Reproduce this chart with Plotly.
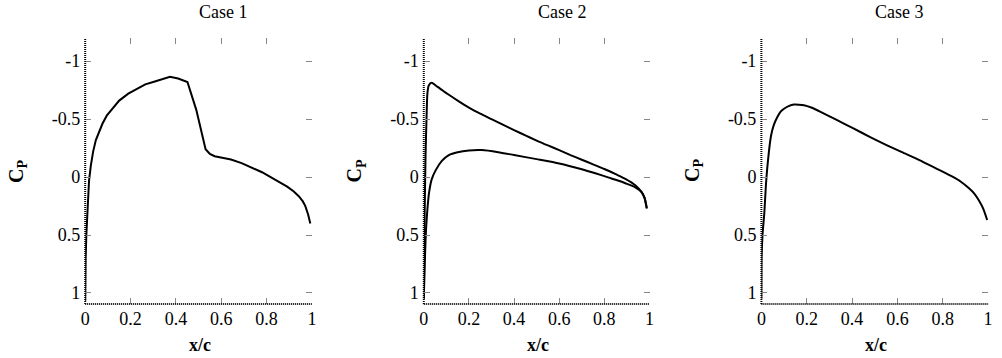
import plotly.graph_objects as go

# ---------------- data ----------------
case1_x = [0.0, 0.0005, 0.002, 0.005, 0.01, 0.017, 0.025, 0.035, 0.047, 0.06, 0.076, 0.095,
           0.12, 0.15, 0.19, 0.23, 0.265, 0.3, 0.323, 0.35, 0.374, 0.41, 0.451, 0.49, 0.531,
           0.55, 0.571, 0.61, 0.643, 0.69, 0.731, 0.78, 0.818, 0.86, 0.891, 0.92, 0.942,
           0.96, 0.971, 0.983, 0.993]
case1_cp = [1.07, 0.9, 0.7, 0.5, 0.25, 0.03, -0.1, -0.22, -0.32, -0.39, -0.46, -0.53,
            -0.59, -0.66, -0.72, -0.765, -0.80, -0.82, -0.835, -0.85, -0.865, -0.85, -0.82, -0.58, -0.24,
            -0.2, -0.18, -0.165, -0.152, -0.12, -0.085, -0.042, 0.0, 0.045, 0.083, 0.125, 0.165,
            0.21, 0.25, 0.32, 0.40]

case2_upper_x = [0.0, 0.002, 0.004, 0.008, 0.012, 0.016, 0.022, 0.035, 0.06, 0.085, 0.111, 0.15,
                 0.2, 0.25, 0.3, 0.35, 0.4, 0.45, 0.5, 0.55, 0.6, 0.65, 0.7, 0.75,
                 0.8, 0.85, 0.893, 0.937, 0.965, 0.978, 0.988]
case2_upper_cp = [1.05, 0.7, 0.3, -0.2, -0.5, -0.72, -0.79, -0.813, -0.78, -0.745, -0.71, -0.66,
                  -0.6, -0.548, -0.5, -0.452, -0.405, -0.36, -0.315, -0.273, -0.233, -0.19, -0.15, -0.11,
                  -0.07, -0.025, 0.015, 0.07, 0.13, 0.18, 0.27]

case2_lower_x = [0.0, 0.003, 0.006, 0.01, 0.016, 0.023, 0.035, 0.053, 0.08, 0.111, 0.15, 0.2,
                 0.257, 0.33, 0.4, 0.5, 0.6, 0.7, 0.76, 0.82, 0.86, 0.893, 0.937, 0.965,
                 0.978, 0.988]
case2_lower_cp = [1.05, 0.85, 0.65, 0.45, 0.28, 0.14, 0.02, -0.06, -0.14, -0.19, -0.215, -0.23,
                  -0.233, -0.215, -0.19, -0.155, -0.118, -0.068, -0.033, 0.005, 0.03, 0.053, 0.088, 0.13,
                  0.18, 0.27]

case3_x = [0.0, 0.001, 0.005, 0.013, 0.02, 0.028, 0.042, 0.055, 0.071, 0.085, 0.10, 0.12,
           0.144, 0.165, 0.188, 0.22, 0.261, 0.33, 0.406, 0.48, 0.552, 0.62, 0.697, 0.77,
           0.843, 0.88, 0.916, 0.94, 0.959, 0.978, 0.996]
case3_cp = [1.05, 0.7, 0.5, 0.31, 0.07, -0.12, -0.35, -0.45, -0.52, -0.565, -0.59, -0.612,
            -0.626, -0.625, -0.62, -0.6, -0.563, -0.495, -0.42, -0.345, -0.276, -0.215, -0.147, -0.075,
            -0.003, 0.04, 0.097, 0.145, 0.20, 0.27, 0.37]

titles = ["Case 1", "Case 2", "Case 3"]
x_ticks = [0, 0.2, 0.4, 0.6, 0.8, 1]
x_ticktext = ["0", "0.2", "0.4", "0.6", "0.8", "1"]
y_ticks = [-1, -0.5, 0, 0.5, 1]
y_ticktext = ["-1", "-0.5", "0", "0.5", "1"]

# ---------------- layout geometry ----------------
W, H = 1002, 358
x_domains_px = [(81, 310), (423, 651), (764, 993)]
y_top_px, y_bot_px = 38, 304
y_dom = [1 - y_bot_px / H, 1 - y_top_px / H]

FONT = "Liberation Serif, Times New Roman, serif"

fig = go.Figure()

series = [
    [(case1_x, case1_cp, "linear")],
    [(case2_upper_x, case2_upper_cp, "spline"), (case2_lower_x, case2_lower_cp, "spline")],
    [(case3_x, case3_cp, "spline")],
]

for i, curves in enumerate(series):
    n = "" if i == 0 else str(i + 1)
    for xs, ys, shp in curves:
        line = dict(color="black", width=2, shape=shp)
        if shp == "spline":
            line["smoothing"] = 0.6
        fig.add_trace(go.Scatter(x=xs, y=ys, mode="lines", xaxis="x" + n, yaxis="y" + n,
                                 line=line, showlegend=False, hoverinfo="skip"))

axis_common = dict(showgrid=False, zeroline=False, showline=False, ticks="inside",
                   ticklen=6, tickwidth=1, tickcolor="#888888", mirror="ticks",
                   tickfont=dict(family=FONT, size=18, color="black"))

layout = dict(width=W, height=H, margin=dict(l=0, r=0, t=0, b=0),
              plot_bgcolor="white", paper_bgcolor="white", showlegend=False)

annotations = []
shapes = []
title_offsets = [25, 26, 25]
for i in range(3):
    n = "" if i == 0 else str(i + 1)
    x0, x1 = x_domains_px[i]
    layout["xaxis" + n] = dict(axis_common, domain=[x0 / W, x1 / W], range=[0, 1.0],
                               tickvals=x_ticks, ticktext=x_ticktext, anchor="y" + n,
                               ticklabelstandoff=2)
    layout["yaxis" + n] = dict(axis_common, domain=y_dom, range=[1.095, -1.2],
                               tickvals=y_ticks, ticktext=y_ticktext, anchor="x" + n,
                               ticklabelstandoff=4)
    # dotted axis lines (left and bottom)
    shapes.append(dict(type="line", xref=f"x{n} domain", yref=f"y{n} domain",
                       x0=0, x1=0, y0=0, y1=1, line=dict(color="black", width=2, dash="1px,1px")))
    shapes.append(dict(type="line", xref=f"x{n} domain", yref=f"y{n} domain",
                       x0=0, x1=1, y0=0, y1=0, line=dict(color="black", width=2, dash="1px,1px")))
    cx = (x0 + x1) / 2
    annotations.append(dict(text=titles[i], xref="paper", yref="paper",
                            x=(cx + title_offsets[i]) / W, y=1 - 12 / H,
                            xanchor="center", yanchor="middle", showarrow=False,
                            font=dict(family=FONT, size=18, color="black")))
    annotations.append(dict(text="<b>x/c</b>", xref="paper", yref="paper",
                            x=(cx + 1) / W, y=1 - 345 / H,
                            xanchor="center", yanchor="middle", showarrow=False,
                            font=dict(family=FONT, size=18, color="black")))
    annotations.append(dict(text="<b>C<sub>P</sub></b>", xref="paper", yref="paper",
                            x=(x0 - 69) / W, y=1 - 171 / H, textangle=-90,
                            xanchor="center", yanchor="middle", showarrow=False,
                            font=dict(family=FONT, size=20, color="black")))

layout["annotations"] = annotations
layout["shapes"] = shapes
fig.update_layout(**layout)

fig.write_html("out.html", config={"displayModeBar": False},
               post_script="document.body.style.margin='0';document.body.style.overflow='hidden';")
